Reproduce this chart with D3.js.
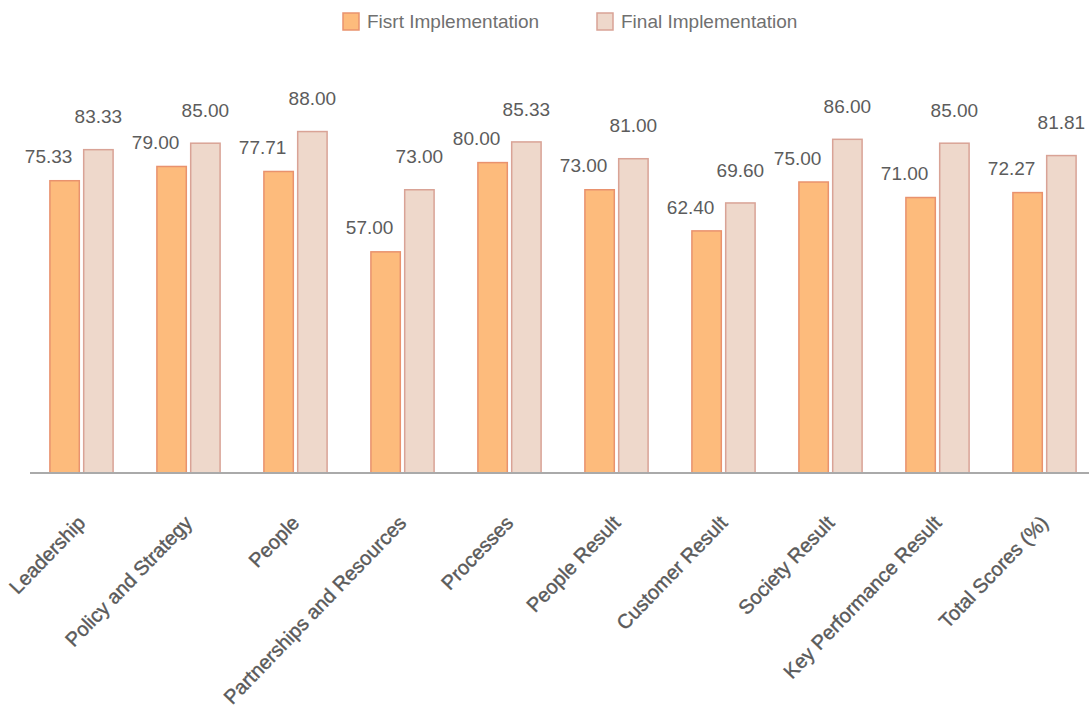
<!DOCTYPE html>
<html>
<head>
<meta charset="utf-8">
<script src="https://cdn.jsdelivr.net/npm/d3@7"></script>
<style>
  body { margin: 0; background: #fff; }
  text { font-family: "Liberation Sans", Arial, sans-serif; }
</style>
</head>
<body>
<svg id="canvas"></svg>
<script>
const categories = ['Leadership', 'Policy and Strategy', 'People', 'Partnerships and Resources',
    'Processes', 'People Result', 'Customer Result', 'Society Result',
    'Key Performance Result', 'Total Scores (%)']
const seriesNames = ['Fisrt Implementation', 'Final Implementation']
const firstValues = [75.33, 79.00, 77.71, 57.00, 80.00, 73.00, 62.40, 75.00, 71.00, 72.27]
const finalValues = [83.33, 85.00, 88.00, 73.00, 85.33, 81.00, 69.60, 86.00, 85.00, 81.81]

const width = 1089
const height = 713
const baseline = 473

let svg = d3.select('#canvas')
    .attr('width', width)
    .attr('height', height)

// colours: fill + border per series
const fills = ['#fdbb7c', '#eed8cb']
const strokes = ['#e9926e', '#d9a396']

let data = categories.map((c, i) => ({ cat: c, vals: [firstValues[i], finalValues[i]] }))

// scales
let x0 = d3.scaleBand()
    .domain(categories)
    .range([28, 1098])
    .paddingInner(0.4)
    .paddingOuter(0.2)

let x1 = d3.scaleBand()
    .domain([0, 1])
    .range([0, x0.bandwidth()])
    .paddingInner(0.1)

let y = d3.scaleLinear()
    .domain([0, 100])
    .range([baseline, 85])

// bars
let groups = svg.selectAll('g.grp')
    .data(data)
    .enter()
    .append('g')
    .attr('class', 'grp')
    .attr('transform', d => 'translate(' + x0(d.cat) + ',0)')

groups.selectAll('rect')
    .data(d => d.vals.map((v, k) => ({ v: v, k: k })))
    .enter()
    .append('rect')
    .attr('x', d => x1(d.k) + 0.5)
    .attr('y', d => y(d.v))
    .attr('width', x1.bandwidth() - 1)
    .attr('height', d => baseline - y(d.v))
    .attr('fill', d => fills[d.k])
    .attr('stroke', d => strokes[d.k])
    .attr('stroke-width', 1.5)

// value labels
groups.selectAll('text.val')
    .data(d => d.vals.map((v, k) => ({ v: v, k: k })))
    .enter()
    .append('text')
    .attr('class', 'val')
    .attr('x', d => x1(d.k) + x1.bandwidth() / 2 + (d.k === 0 ? -16 : 0))
    .attr('y', d => y(d.v) - (d.k === 0 ? 24 : 33))
    .attr('dy', '0.35em')
    .attr('text-anchor', 'middle')
    .attr('font-size', 19)
    .attr('fill', '#5c5c5c')
    .text(d => d.v.toFixed(2))

// x axis line
svg.append('line')
    .attr('x1', 30)
    .attr('x2', width)
    .attr('y1', baseline)
    .attr('y2', baseline)
    .attr('stroke', '#aaaaaa')
    .attr('stroke-width', 2)

// category labels
svg.selectAll('text.cat')
    .data(categories)
    .enter()
    .append('text')
    .attr('class', 'cat')
    .attr('text-anchor', 'end')
    .attr('font-size', 20)
    .attr('fill', '#5a5a5a')
    .attr('stroke', '#5a5a5a')
    .attr('stroke-width', 0.4)
    .attr('transform', d => 'translate(' + (x0(d) + x0.bandwidth() / 2 + 5) + ',524) rotate(-46)')
    .text(d => d)

// legend
let legend = svg.append('g')
let legendX = [343, 597]
seriesNames.forEach((name, k) => {
    legend.append('rect')
        .attr('x', legendX[k])
        .attr('y', 13)
        .attr('width', 16)
        .attr('height', 17)
        .attr('fill', fills[k])
        .attr('stroke', strokes[k])
        .attr('stroke-width', 1.5)
    legend.append('text')
        .attr('x', legendX[k] + 24)
        .attr('y', 21)
        .attr('dy', '0.35em')
        .attr('font-size', 19)
        .attr('fill', '#707070')
        .text(name)
})
</script>
</body>
</html>
